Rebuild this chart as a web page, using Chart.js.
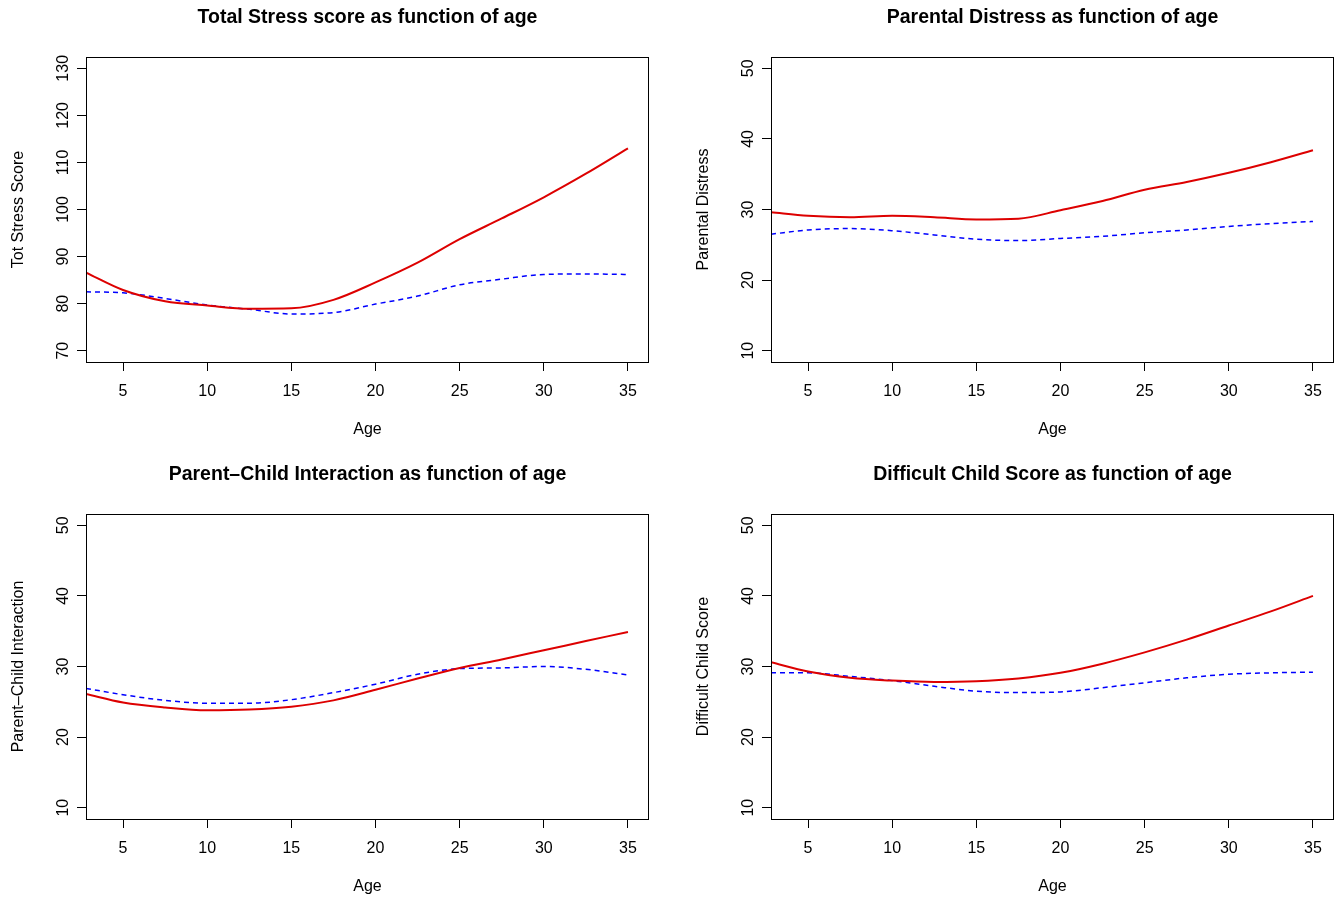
<!DOCTYPE html>
<html lang="en">
<head>
  <meta charset="UTF-8" />
  <title>Stress scores as function of age</title>
  <script src="https://cdn.jsdelivr.net/npm/chart.js"></script>
  <style>
    html, body {
      margin: 0;
      padding: 0;
      background: #fff;
      overflow: hidden;
    }
    #wrap {
      position: relative;
      width: 1340px;
      height: 899px;
    }
    canvas {
      position: absolute;
    }
  </style>
</head>
<body>
  <div id="wrap"></div>

  <script>
    const ages = [2.8, 5, 7.5, 10, 12.5, 15, 17.5, 20, 22.5, 25, 27.5, 30, 32.5, 35];

    // Solid red / dashed blue curve for each panel
    const totalRed = [86.6, 82.9, 80.5, 79.6, 78.9, 79.0, 80.8, 84.5, 88.7, 93.7, 98.1, 102.6, 107.6, 113.0];
    const totalBlue = [82.5, 82.3, 81.1, 79.7, 78.8, 77.8, 78.1, 79.9, 81.6, 84.0, 85.2, 86.2, 86.3, 86.2];

    const parentalRed = [29.6, 29.1, 28.9, 29.1, 28.9, 28.6, 28.7, 29.9, 31.2, 32.8, 33.9, 35.2, 36.7, 38.4];
    const parentalBlue = [26.5, 27.1, 27.3, 27.0, 26.4, 25.8, 25.6, 25.9, 26.2, 26.7, 27.1, 27.6, 28.0, 28.3];

    const pciRed = [26.1, 24.9, 24.2, 23.8, 23.9, 24.3, 25.2, 26.7, 28.3, 29.8, 31.0, 32.3, 33.6, 34.9];
    const pciBlue = [26.9, 26.0, 25.2, 24.8, 24.8, 25.3, 26.3, 27.5, 28.9, 29.7, 29.8, 30.0, 29.6, 28.8];

    const difficultRed = [30.6, 29.3, 28.4, 28.0, 27.8, 27.9, 28.3, 29.1, 30.4, 32.0, 33.8, 35.8, 37.8, 40.0];
    const difficultBlue = [29.1, 29.1, 28.6, 28.0, 27.2, 26.5, 26.3, 26.4, 27.0, 27.7, 28.4, 28.9, 29.1, 29.2];

    // Tick labels
    const xTicks = [5, 10, 15, 20, 25, 30, 35];
    const yTicksTotal = [70, 80, 90, 100, 110, 120, 130];
    const yTicksSub = [10, 20, 30, 40, 50];

    const FONT = '"Liberation Sans", Arial, Helvetica, sans-serif';
    const BASE = 16;
    const TICK_LEN = 9;

    const measureCtx = document.createElement("canvas").getContext("2d");
    function textWidth(txt) {
      measureCtx.font = BASE + "px " + FONT;
      return measureCtx.measureText(txt).width;
    }

    // Draws the full R-style box round the plot region
    const boxPlugin = {
      id: "box",
      afterDatasetsDraw(chart) {
        const a = chart.chartArea;
        const ctx = chart.ctx;
        ctx.save();
        ctx.strokeStyle = "#000";
        ctx.lineWidth = 1;
        ctx.strokeRect(a.left + 0.5, a.top + 0.5, a.right - a.left - 1, a.bottom - a.top);
        ctx.restore();
      },
    };

    const panels = [
      {
        title: "Total Stress score as function of age",
        yLabel: "Tot Stress Score",
        red: totalRed, blue: totalBlue,
        yTicks: yTicksTotal, yMin: 67.6, yMax: 132.4,
        left: 0, top: 0, width: 669, padRight: 20,
      },
      {
        title: "Parental Distress as function of age",
        yLabel: "Parental Distress",
        red: parentalRed, blue: parentalBlue,
        yTicks: yTicksSub, yMin: 8.4, yMax: 51.6,
        left: 685, top: 0, width: 655, padRight: 6,
      },
      {
        title: "Parent\u2013Child Interaction as function of age",
        yLabel: "Parent\u2013Child Interaction",
        red: pciRed, blue: pciBlue,
        yTicks: yTicksSub, yMin: 8.4, yMax: 51.6,
        left: 0, top: 457, width: 669, padRight: 20,
      },
      {
        title: "Difficult Child Score as function of age",
        yLabel: "Difficult Child Score",
        red: difficultRed, blue: difficultBlue,
        yTicks: yTicksSub, yMin: 8.4, yMax: 51.6,
        left: 685, top: 457, width: 655, padRight: 6,
      },
    ];

    function makePanel(p) {
      const canvas = document.createElement("canvas");
      canvas.width = p.width;
      canvas.height = 442;
      canvas.style.left = p.left + "px";
      canvas.style.top = p.top + "px";
      document.getElementById("wrap").appendChild(canvas);

      const widest = Math.max(...p.yTicks.map((v) => textWidth(String(v))));
      const yPad = 86 - TICK_LEN - 63.3 - widest / 2;

      new Chart(canvas.getContext("2d"), {
        type: "line",
        data: {
          datasets: [
            {
              data: ages.map((a, i) => ({ x: a, y: p.red[i] })),
              borderColor: "#dd0000",
              borderWidth: 2,
              pointRadius: 0,
              cubicInterpolationMode: "monotone",
              fill: false,
            },
            {
              data: ages.map((a, i) => ({ x: a, y: p.blue[i] })),
              borderColor: "#0000ff",
              borderWidth: 1.5,
              borderDash: [5, 4],
              pointRadius: 0,
              cubicInterpolationMode: "monotone",
              fill: false,
            },
          ],
        },
        options: {
          responsive: false,
          animation: false,
          layout: { padding: { left: 0, right: p.padRight, top: 0, bottom: 0 } },
          plugins: {
            legend: { display: false },
            tooltip: { enabled: false },
            title: {
              display: true,
              text: p.title,
              fullSize: false,
              color: "#000",
              font: { family: FONT, size: 19.5, weight: "bold" },
              padding: { top: 5.9, bottom: 27.7 },
            },
          },
          scales: {
            x: {
              type: "linear",
              min: 2.8,
              max: 36.25,
              afterBuildTicks: (s) => { s.ticks = xTicks.map((v) => ({ value: v })); },
              afterFit: (s) => { s.height = 80; },
              grid: { drawOnChartArea: false, drawTicks: true, tickLength: TICK_LEN, color: "#000" },
              border: { display: false },
              ticks: {
                color: "#000",
                font: { family: FONT, size: BASE },
                maxRotation: 0,
                autoSkip: false,
                padding: 10.9,
              },
              title: {
                display: true,
                text: "Age",
                color: "#000",
                font: { family: FONT, size: BASE },
                padding: { top: 0, bottom: 2.9 },
              },
            },
            y: {
              type: "linear",
              min: p.yMin,
              max: p.yMax,
              afterBuildTicks: (s) => { s.ticks = p.yTicks.map((v) => ({ value: v })); },
              afterFit: (s) => { s.width = 86; },
              grid: { drawOnChartArea: false, drawTicks: true, tickLength: TICK_LEN, color: "#000" },
              border: { display: false },
              ticks: {
                color: "#000",
                font: { family: FONT, size: BASE },
                minRotation: 90,
                maxRotation: 90,
                crossAlign: "center",
                autoSkip: false,
                padding: yPad,
              },
              title: {
                display: true,
                text: p.yLabel,
                color: "#000",
                font: { family: FONT, size: BASE },
                padding: { top: 9.0, bottom: 0 },
              },
            },
          },
        },
        plugins: [boxPlugin],
      });
    }

    panels.forEach(makePanel);
  </script>
</body>
</html>
